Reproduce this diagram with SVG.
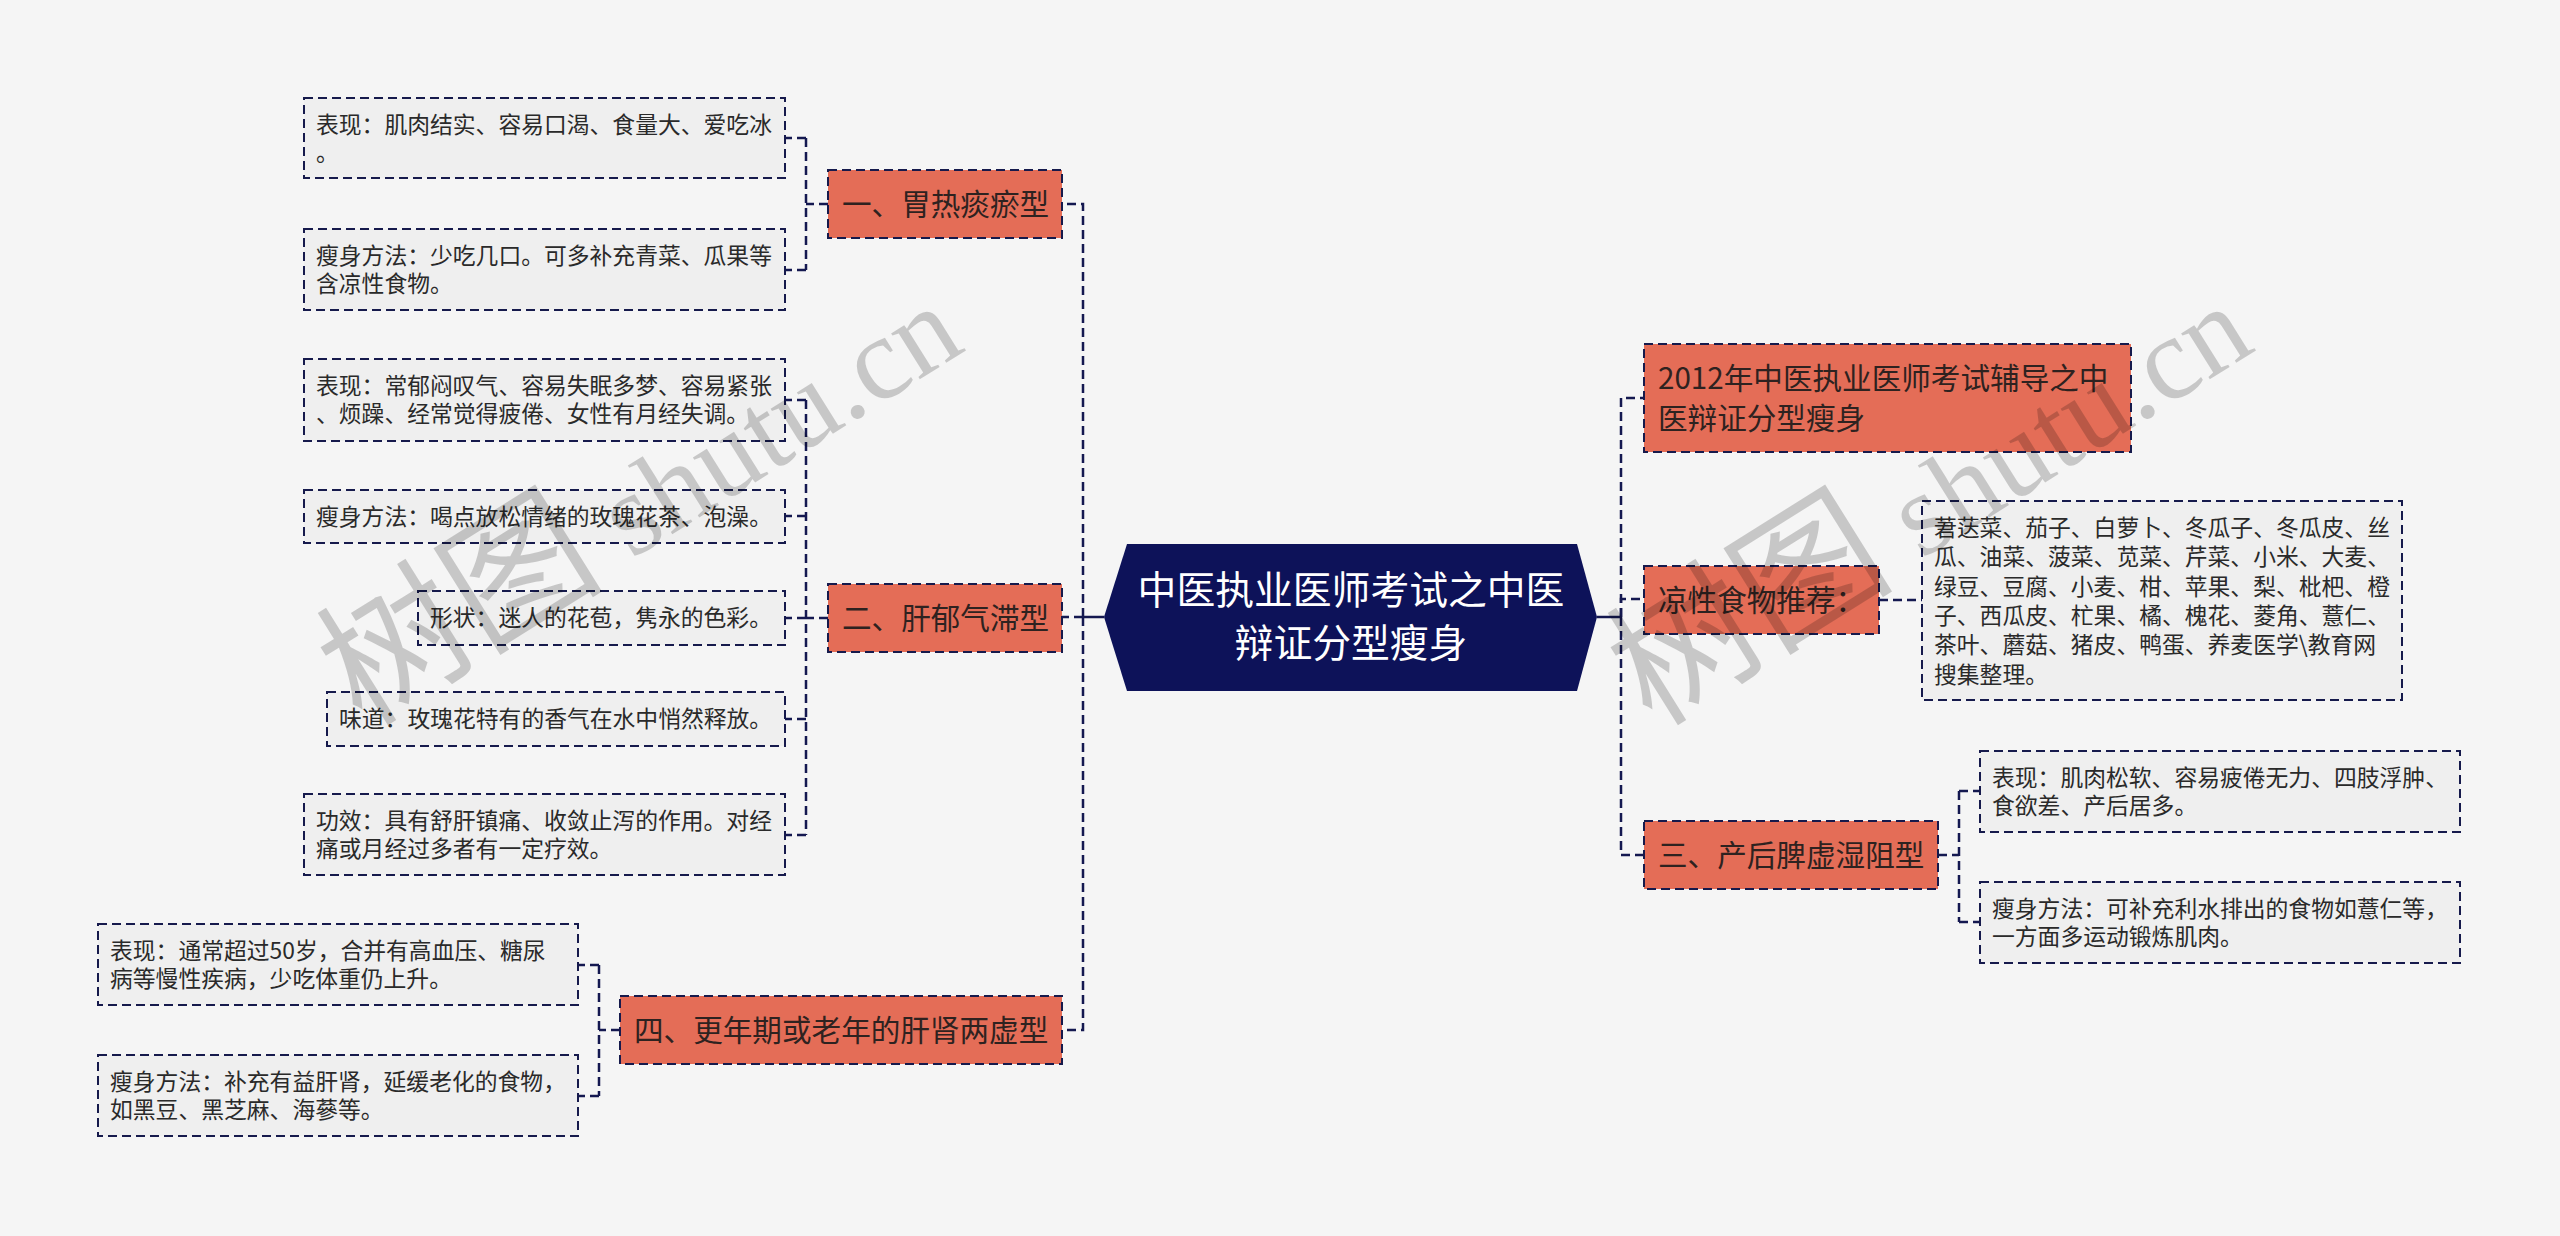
<svg xmlns="http://www.w3.org/2000/svg" width="2560" height="1236" viewBox="0 0 2560 1236">
<style>
text{font-family:"Noto Sans CJK SC","Microsoft YaHei",sans-serif;}
.leaf rect{fill:#EFEFEF;stroke:#161A4C;stroke-width:2;stroke-dasharray:9 5;}
.leaf text{font-size:22.8px;fill:#2A2A2A;}
.topic rect{fill:#E46D57;stroke:#161A4C;stroke-width:2;stroke-dasharray:9 5;}
.topic text{font-size:29.6px;fill:#2E2220;}
.conn path{fill:none;stroke:#141850;stroke-width:2.5;stroke-dasharray:9 5;}
.conn path.solid{stroke-dasharray:none;}
.wm{font-family:"Liberation Serif","Noto Sans CJK SC",serif;font-size:118px;fill:#000;fill-opacity:0.19;}
.wm .cjk{font-family:"Noto Sans CJK SC",serif;font-size:144px;}
</style>
<rect x="0" y="0" width="2560" height="1236" fill="#F5F5F5"/>

<g id="connectors" class="conn">
<path class="solid" d="M1104,617 H1083"/>
<path d="M1083,617 V204 H1062"/>
<path d="M1083,617 H1062"/>
<path d="M1083,617 V1030 H1062"/>
<path class="solid" d="M1597,617 H1621"/>
<path d="M1621,617 V398 H1644"/>
<path d="M1621,617 V599 H1644"/>
<path d="M1621,617 V855 H1644"/>
<path d="M828,204 H806 M806,138 V270 M806,138 H785 M806,270 H785"/>
<path d="M828,618 H806 M806,400 V835 M806,400 H785 M806,516 H785 M806,618 H785 M806,719 H785 M806,835 H785"/>
<path d="M620,1030 H599 M599,965 V1096 M599,965 H578 M599,1096 H578"/>
<path d="M1879,600 H1922"/>
<path d="M1938,855 H1959 M1959,791 V922 M1959,791 H1980 M1959,922 H1980"/>
</g>

<g id="center">
<polygon points="1104,617 1127,544 1577,544 1597,617 1577,691 1127,691" fill="#0D1259"/>
<text x="1351" y="604" text-anchor="middle" font-size="38.8" fill="#FFFFFF">中医执业医师考试之中医</text>
<text x="1351" y="657" text-anchor="middle" font-size="38.8" fill="#FFFFFF">辩证分型瘦身</text>
</g>

<g id="n1" class="topic"><rect x="828" y="170" width="234" height="68"/><text x="842" y="214.6">一、胃热痰瘀型</text></g>
<g id="n2" class="topic"><rect x="828" y="584" width="234" height="68"/><text x="842" y="628.6">二、肝郁气滞型</text></g>
<g id="n4" class="topic"><rect x="620" y="996" width="442" height="68"/><text x="634" y="1040.6">四、更年期或老年的肝肾两虚型</text></g>
<g id="r1" class="topic"><rect x="1644" y="344" width="487" height="108"/><text x="1658" y="388.6">2012年中医执业医师考试辅导之中</text><text x="1658" y="428.6">医辩证分型瘦身</text></g>
<g id="r2" class="topic"><rect x="1644" y="566" width="235" height="68"/><text x="1658" y="610.6">凉性食物推荐：</text></g>
<g id="r3" class="topic"><rect x="1644" y="821" width="294" height="68"/><text x="1658" y="865.6">三、产后脾虚湿阻型</text></g>

<g id="a1" class="leaf"><rect x="304" y="98" width="481" height="80"/><text x="316" y="132.7">表现：肌肉结实、容易口渴、食量大、爱吃冰</text><text x="316" y="161.2">。</text></g>
<g id="a2" class="leaf"><rect x="304" y="229" width="481" height="81"/><text x="316" y="263.7">瘦身方法：少吃几口。可多补充青菜、瓜果等</text><text x="316" y="292.2">含凉性食物。</text></g>
<g id="b1" class="leaf"><rect x="304" y="359" width="481" height="82"/><text x="316" y="393.7">表现：常郁闷叹气、容易失眠多梦、容易紧张</text><text x="316" y="422.2">、烦躁、经常觉得疲倦、女性有月经失调。</text></g>
<g id="b2" class="leaf"><rect x="304" y="490" width="481" height="53"/><text x="316" y="524.7">瘦身方法：喝点放松情绪的玫瑰花茶、泡澡。</text></g>
<g id="b3" class="leaf"><rect x="418" y="591" width="367" height="54"/><text x="430" y="626.2">形状：迷人的花苞，隽永的色彩。</text></g>
<g id="b4" class="leaf"><rect x="327" y="692" width="458" height="54"/><text x="339" y="727.2">味道：玫瑰花特有的香气在水中悄然释放。</text></g>
<g id="b5" class="leaf"><rect x="304" y="794" width="481" height="81"/><text x="316" y="828.7">功效：具有舒肝镇痛、收敛止泻的作用。对经</text><text x="316" y="857.2">痛或月经过多者有一定疗效。</text></g>
<g id="d1" class="leaf"><rect x="98" y="924" width="480" height="81"/><text x="110" y="958.7">表现：通常超过50岁，合并有高血压、糖尿</text><text x="110" y="987.2">病等慢性疾病，少吃体重仍上升。</text></g>
<g id="d2" class="leaf"><rect x="98" y="1055" width="480" height="81"/><text x="110" y="1089.7">瘦身方法：补充有益肝肾，延缓老化的食物，</text><text x="110" y="1118.2">如黑豆、黑芝麻、海蔘等。</text></g>

<g id="r2c" class="leaf"><rect x="1922" y="501" width="480" height="199"/>
<text x="1934" y="536">莙荙菜、茄子、白萝卜、冬瓜子、冬瓜皮、丝</text>
<text x="1934" y="565.3">瓜、油菜、菠菜、苋菜、芹菜、小米、大麦、</text>
<text x="1934" y="594.6">绿豆、豆腐、小麦、柑、苹果、梨、枇杷、橙</text>
<text x="1934" y="623.9">子、西瓜皮、杧果、橘、槐花、菱角、薏仁、</text>
<text x="1934" y="653.2">茶叶、蘑菇、猪皮、鸭蛋、养麦医学\教育网</text>
<text x="1934" y="682.5">搜集整理。</text>
</g>
<g id="r3a" class="leaf"><rect x="1980" y="751" width="480" height="81"/><text x="1992" y="785.7">表现：肌肉松软、容易疲倦无力、四肢浮肿、</text><text x="1992" y="814.2">食欲差、产后居多。</text></g>
<g id="r3b" class="leaf"><rect x="1980" y="882" width="480" height="81"/><text x="1992" y="916.7">瘦身方法：可补充利水排出的食物如薏仁等，</text><text x="1992" y="945.2">一方面多运动锻炼肌肉。</text></g>

<g id="watermarks">
<text class="wm" transform="translate(362,728) rotate(-32)"><tspan class="cjk">树图</tspan> shutu.cn</text>
<text class="wm" transform="translate(1652,728) rotate(-32)"><tspan class="cjk">树图</tspan> shutu.cn</text>
</g>
</svg>
